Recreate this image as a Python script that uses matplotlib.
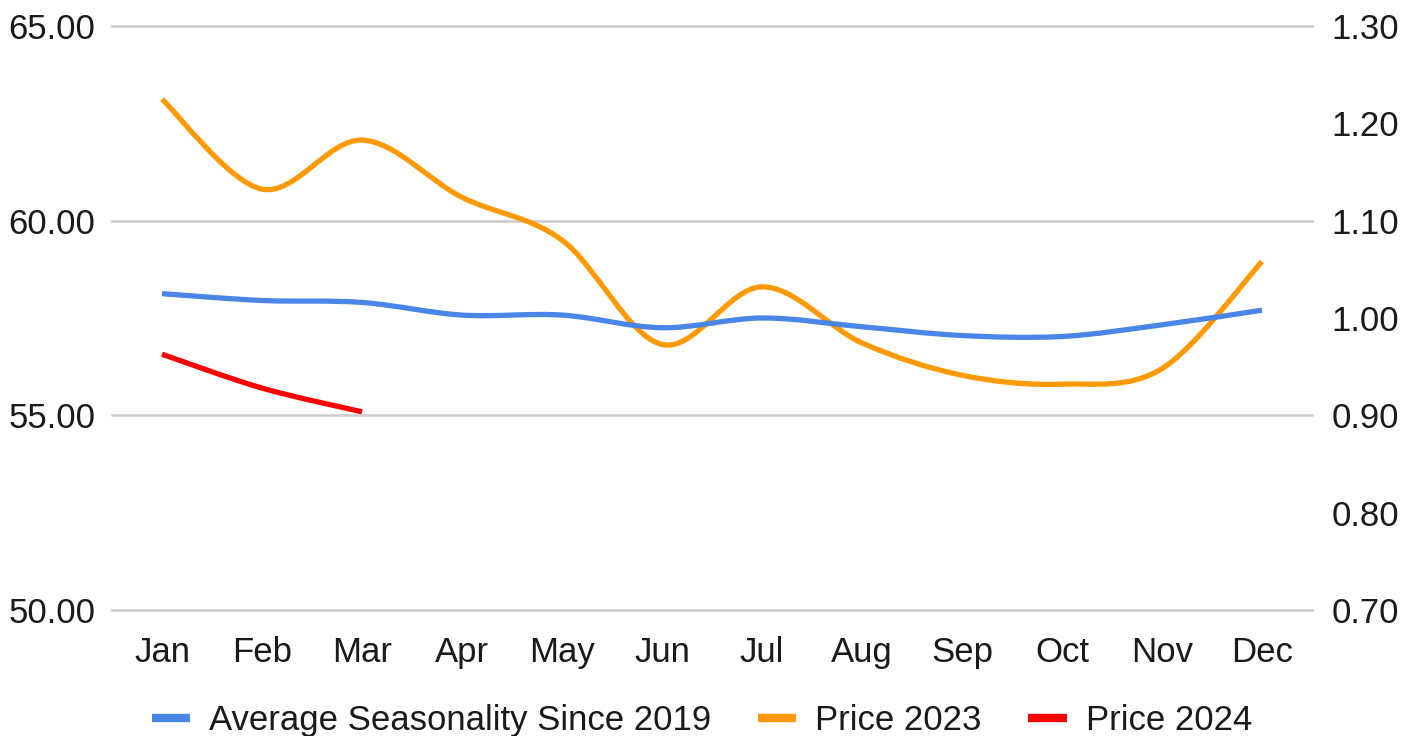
import matplotlib
matplotlib.use("Agg")
import matplotlib.pyplot as plt
import numpy as np
from matplotlib.lines import Line2D
from matplotlib.patches import PathPatch
from matplotlib.path import Path

plt.rcParams['font.family'] = ['Liberation Sans', 'DejaVu Sans']

months = ["Jan", "Feb", "Mar", "Apr", "May", "Jun",
          "Jul", "Aug", "Sep", "Oct", "Nov", "Dec"]
seasonality = [1.025, 1.018, 1.016, 1.003, 1.003, 0.990,
               1.000, 0.991, 0.982, 0.981, 0.993, 1.008]
price_2023 = [63.12, 60.81, 62.07, 60.60, 59.50, 56.82,
              58.30, 56.86, 56.03, 55.80, 56.20, 58.95]
price_2024 = [56.57, 55.70, 55.09]

labels = ["Average Seasonality Since 2019", "Price 2023", "Price 2024"]
colors = ["#4a86e8", "#ff9900", "#ff0000"]


def smooth_path(xs, ys):
    # cubic bezier segments through the points (catmull-rom style control points)
    pts = np.column_stack([xs, ys]).astype(float)
    n = len(pts)
    verts = [pts[0]]
    codes = [Path.MOVETO]
    for i in range(n - 1):
        p0 = pts[max(i - 1, 0)]
        p1 = pts[i]
        p2 = pts[i + 1]
        p3 = pts[min(i + 2, n - 1)]
        c1 = p1 + (p2 - p0) / 6.0
        c2 = p2 - (p3 - p1) / 6.0
        verts += [c1, c2, p2]
        codes += [Path.CURVE4] * 3
    return Path(verts, codes)


def draw_curve(ax, ys, color):
    xs = np.arange(len(ys))
    patch = PathPatch(smooth_path(xs, ys), fill=False, edgecolor=color,
                      linewidth=3.8, capstyle='butt', joinstyle='round')
    ax.add_patch(patch)


fig = plt.figure(figsize=(14.15, 7.36), dpi=100)
ax = fig.add_axes([112 / 1415, 1 - 610 / 736, 1200 / 1415, 584 / 736])
ax2 = ax.twinx()

ax.set_xlim(-0.5, len(months) - 0.5)
ax.set_ylim(50, 65)
ax2.set_ylim(0.7, 1.3)

ax.set_yticks([50, 55, 60, 65])
ax.set_yticklabels(["%.2f" % v for v in [50, 55, 60, 65]])
ax2.set_yticks(np.arange(0.7, 1.31, 0.1))
ax2.set_yticklabels(["%.2f" % v for v in np.arange(0.7, 1.31, 0.1)])
ax.set_xticks(range(len(months)))
ax.set_xticklabels(months)

ax.grid(axis='y', color='#cccccc', linewidth=1.8)
for g in ax.get_ygridlines():
    g.set_clip_on(False)
ax.set_axisbelow(True)
for a in (ax, ax2):
    for s in a.spines.values():
        s.set_visible(False)
    a.tick_params(length=0, labelsize=25, labelcolor='#1a1a1a')
ax.tick_params(axis='y', pad=12)
ax2.tick_params(axis='y', pad=14)
ax.tick_params(axis='x', pad=19)

draw_curve(ax, price_2023, colors[1])
draw_curve(ax, price_2024, colors[2])
draw_curve(ax2, seasonality, colors[0])

handles = [Line2D([0], [0], color=c, linewidth=6, solid_capstyle='butt') for c in colors]
fig.legend(handles, labels, loc='center', bbox_to_anchor=(0.496, 0.021), ncol=3,
           frameon=False, fontsize=25, handlelength=1.1, handletextpad=0.55,
           columnspacing=1.35, labelcolor='#1a1a1a')

fig.savefig("out.png", dpi=100)
